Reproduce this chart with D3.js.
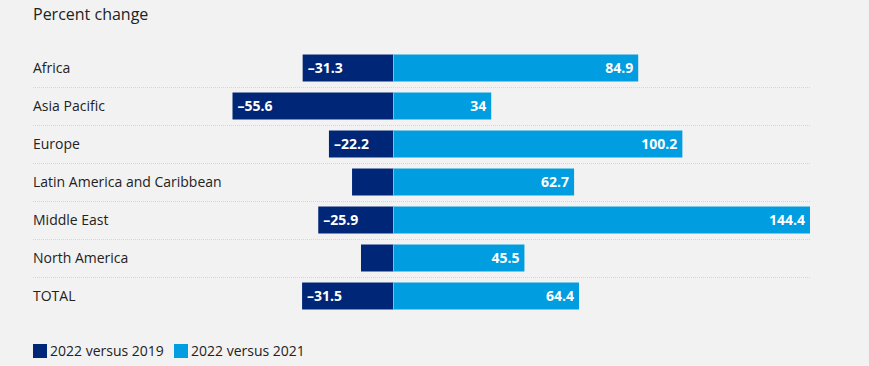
<!DOCTYPE html>
<html>
<head>
<meta charset="utf-8">
<script src="https://cdn.jsdelivr.net/npm/d3@7"></script>
<style>
  body { margin: 0; background: #f2f2f2; }
  svg { display: block; font-family: "Open Sans", "Noto Sans", sans-serif; }
</style>
</head>
<body>
<div id="chart"></div>
<script>
var regions = ['Africa', 'Asia Pacific', 'Europe', 'Latin America and Caribbean', 'Middle East', 'North America', 'TOTAL'];
var vs2019 = [-31.3, -55.6, -22.2, -14.2, -25.9, -11.1, -31.5];
var vs2019Labels = ['–31.3', '–55.6', '–22.2', '', '–25.9', '', '–31.5'];
var vs2021 = [84.9, 34, 100.2, 62.7, 144.4, 45.5, 64.4];
var vs2021Labels = ['84.9', '34', '100.2', '62.7', '144.4', '45.5', '64.4'];
var seriesNames = ['2022 versus 2019', '2022 versus 2021'];
var colors = ['#002677', '#009de0'];

var width = 869, height = 366;
var svg = d3.select('#chart').append('svg')
	.attr('width', width)
	.attr('height', height);

svg.append('rect').attr('width', width).attr('height', height).attr('fill', '#f2f2f2');

svg.append('text')
	.attr('x', 33).attr('y', 20)
	.attr('font-size', 16)
	.attr('fill', '#222')
	.text('Percent change');

var x = d3.scaleLinear()
	.domain([-55.6, 144.4])
	.range([232.5, 810]);

var y = d3.scaleBand()
	.domain(regions)
	.range([49, 315])
	.paddingInner(0.29)
	.paddingOuter(0.145);

var step = y.step();

// dotted separators between rows
svg.selectAll('.grid')
	.data(regions.slice(0, -1))
	.enter().append('line')
	.attr('class', 'grid')
	.attr('x1', 33).attr('x2', 811)
	.attr('y1', function(d){ return Math.round(y(d) + y.bandwidth() + (step - y.bandwidth()) / 2) + 0.5; })
	.attr('y2', function(d){ return Math.round(y(d) + y.bandwidth() + (step - y.bandwidth()) / 2) + 0.5; })
	.attr('stroke', '#d6d6d6')
	.attr('stroke-dasharray', '1,1');

// category labels
svg.selectAll('.cat')
	.data(regions)
	.enter().append('text')
	.attr('class', 'cat')
	.attr('x', 33)
	.attr('y', function(d){ return y(d) + y.bandwidth() / 2; })
	.attr('dy', '0.35em')
	.attr('font-size', 14)
	.attr('fill', '#222')
	.text(function(d){ return d; });

var rows = svg.selectAll('.row')
	.data(regions)
	.enter().append('g')
	.attr('class', 'row');

rows.append('rect')
	.attr('x', function(d, i){ return x(vs2019[i]); })
	.attr('y', function(d){ return y(d); })
	.attr('width', function(d, i){ return x(0) - x(vs2019[i]); })
	.attr('height', y.bandwidth())
	.attr('fill', colors[0]);

rows.append('rect')
	.attr('x', x(0))
	.attr('y', function(d){ return y(d); })
	.attr('width', function(d, i){ return x(vs2021[i]) - x(0); })
	.attr('height', y.bandwidth())
	.attr('fill', colors[1]);

// thin separator at zero
rows.append('line')
	.attr('x1', x(0) + 0.5).attr('x2', x(0) + 0.5)
	.attr('y1', function(d){ return y(d); })
	.attr('y2', function(d){ return y(d) + y.bandwidth(); })
	.attr('stroke', '#6fc3ee');

rows.append('text')
	.attr('x', function(d, i){ return x(vs2019[i]) + 5; })
	.attr('y', function(d){ return y(d) + y.bandwidth() / 2; })
	.attr('dy', '0.35em')
	.attr('font-size', 14)
	.attr('font-weight', 'bold')
	.attr('fill', '#fff')
	.text(function(d, i){ return vs2019Labels[i]; });

rows.append('text')
	.attr('x', function(d, i){ return x(vs2021[i]) - 5; })
	.attr('y', function(d){ return y(d) + y.bandwidth() / 2; })
	.attr('dy', '0.35em')
	.attr('text-anchor', 'end')
	.attr('font-size', 14)
	.attr('font-weight', 'bold')
	.attr('fill', '#fff')
	.text(function(d, i){ return vs2021Labels[i]; });

// legend
var legendX = [33, 174];
var legend = svg.selectAll('.legend')
	.data(seriesNames)
	.enter().append('g')
	.attr('class', 'legend')
	.attr('transform', function(d, i){ return 'translate(' + legendX[i] + ',344)'; });

legend.append('rect')
	.attr('width', 14).attr('height', 14)
	.attr('fill', function(d, i){ return colors[i]; });

legend.append('text')
	.attr('x', 17).attr('y', 7)
	.attr('dy', '0.35em')
	.attr('font-size', 14)
	.attr('fill', '#222')
	.text(function(d){ return d; });
</script>
</body>
</html>
